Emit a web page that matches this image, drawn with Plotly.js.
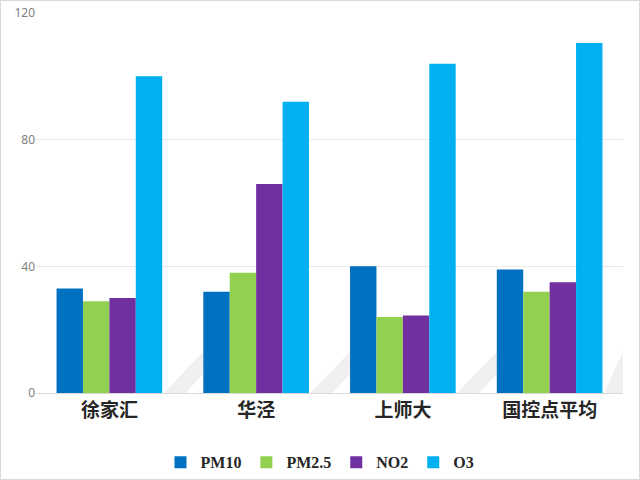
<!DOCTYPE html>
<html>
<head>
<meta charset="utf-8">
<script src="https://cdn.plot.ly/plotly-3.0.1.min.js"></script>
<style>
html,body{margin:0;padding:0;background:#fff;}
#chart{width:638px;height:478px;border:1px solid #d9d9d9;}
</style>
</head>
<body>
<div id="chart"></div>
<script>
const categories = ["徐家汇", "华泾", "上师大", "国控点平均"];
const pm10 = [33, 32, 40, 39];
const pm25 = [29, 38, 24, 32];
const no2 = [30, 66, 24.5, 35];
const o3 = [100, 92, 104, 110.5];
const seriesNames = ["PM10", "PM2.5", "NO2", "O3"];
const seriesColors = ["#0070C0", "#92D050", "#7030A0", "#00B0F0"];
const yTicks = [0, 40, 80, 120];

const values = [pm10, pm25, no2, o3];
const data = values.map((v, i) => ({
  type: "bar",
  x: categories,
  y: v,
  name: seriesNames[i],
  marker: {color: seriesColors[i]},
  hoverinfo: "none"
}));

// decorative soft shadows in the gaps between groups
const shadows = categories.map((c, i) => {
  const xe = Math.min(i + 0.64, categories.length - 0.5);
  return {
    type: "path",
    xref: "x", yref: "y",
    path: `M ${i + 0.37} 0 L ${i + 0.52} 0 L ${xe} 6 L ${xe} 13 Z`,
    fillcolor: "#e2e2e2",
    opacity: 0.5,
    line: {width: 0},
    layer: "below"
  };
});

const layout = {
  width: 638, height: 478,
  margin: {l: 35, r: 16, t: 12, b: 86},
  paper_bgcolor: "#ffffff",
  plot_bgcolor: "#ffffff",
  barmode: "group",
  bargap: 0.28,
  bargroupgap: 0,
  showlegend: true,
  shapes: shadows,
  legend: {
    orientation: "h",
    x: 0.5, xanchor: "center",
    xref: "container",
    yref: "container",
    y: 0.035, yanchor: "middle",
    font: {family: "Liberation Serif, serif", size: 16, color: "#262626", weight: "bold"},
    itemwidth: 30,
    traceorder: "normal"
  },
  xaxis: {
    type: "category",
    range: [-0.5, categories.length - 0.5],
    tickfont: {family: "Noto Sans CJK SC, sans-serif", size: 19, color: "#262626", weight: "bold"},
    showgrid: false,
    showline: true,
    linecolor: "#d9d9d9",
    ticks: "",
    ticklen: 0
  },
  yaxis: {
    range: [0, 120],
    tickvals: yTicks,
    ticktext: yTicks.map(String),
    tickfont: {family: "Noto Sans, sans-serif", size: 12, color: "#808080"},
    showgrid: true,
    gridcolor: "#e8e8e8",
    zeroline: false,
    showline: false,
    ticks: ""
  }
};

Plotly.newPlot("chart", data, layout, {displayModeBar: false, staticPlot: true});
</script>
</body>
</html>
